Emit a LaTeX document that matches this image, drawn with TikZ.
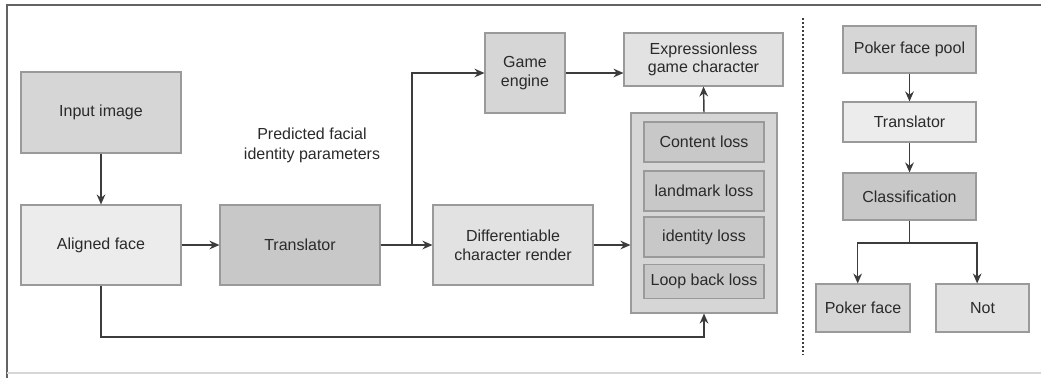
\documentclass[tikz,border=0pt]{standalone}
\usepackage{fontspec}
\setmainfont{Liberation Sans}
\usepackage{tikz}
\usetikzlibrary{arrows.meta, positioning, calc}

\definecolor{inkgray}{HTML}{2A2A2A}
\definecolor{linegray}{HTML}{3C3C3C}
\definecolor{edgegray}{HTML}{9A9A9A}
\definecolor{fillpale}{HTML}{ECECEC}
\definecolor{filllight}{HTML}{E2E2E2}
\definecolor{fillmid}{HTML}{D6D6D6}
\definecolor{filldark}{HTML}{C8C8C8}

\begin{document}
\begin{tikzpicture}[
    x=0.75pt, y=-0.75pt,
    >={Stealth[length=7.5pt,width=6.5pt]},
    blk/.style={draw=edgegray, line width=0.8pt, align=center, inner sep=1pt,
                text=inkgray, font=\fontsize{12}{14}\selectfont},
    link/.style={draw=linegray, line width=1.1pt},
]
  \useasboundingbox (0,0) rectangle (1041,379);
  % frame
  \draw[linegray!80, line width=1.4pt] (7,378) -- (7,5) -- (1041,5);
  \draw[edgegray!40, line width=0.8pt] (7,373) -- (1041,373);

  % left part: training pipeline
  \node[blk, fill=fillmid, minimum width=120pt, minimum height=60.75pt] (in) at (101,112.5) {Input image};
  \node[blk, fill=fillpale, minimum width=120pt, minimum height=60pt] (align) at (101,245) {Aligned face};
  \node[blk, fill=filldark, minimum width=120pt, minimum height=60pt] (trans) at (300,245) {Translator};
  \node[text=inkgray, align=center, font=\fontsize{12}{15}\selectfont] (params) at (312,145)
      {Predicted facial\\identity parameters};
  \node[blk, fill=fillmid, minimum width=60pt, minimum height=60pt] (game) at (525,73) {Game\\engine};
  \node[blk, fill=filllight, minimum width=119.25pt, minimum height=39.75pt] (expr) at (703.5,59.5)
      {Expressionless\\game character};
  \node[blk, fill=filllight, minimum width=120pt, minimum height=60pt] (diff) at (513,245)
      {Differentiable\\character render};
  \node[blk, fill=fillmid, minimum width=109.5pt, minimum height=150pt] (losses) at (704,213) {};
  \node[blk, fill=filldark, minimum width=90pt, minimum height=30pt] (content) at (704,142) {Content loss};
  \node[blk, fill=filldark, minimum width=90pt, minimum height=30pt] (landmark) at (704,191) {landmark loss};
  \node[blk, fill=filldark, minimum width=90pt, minimum height=30pt] (ident) at (704,237) {identity loss};
  \node[blk, fill=filldark, minimum width=90pt, minimum height=25.5pt] (loopback) at (704,281.5) {Loop back loss};

  \coordinate (split) at (412,245);
  \coordinate (lowrun) at (0,337);

  \draw[link, ->] (in) -- (align);
  \draw[link, ->] (align) -- (trans);
  \draw[link] (trans) -- (split);
  \draw[link, ->] (split) -- (diff);
  \draw[link, ->] (split) |- (game.west);
  \draw[link, ->] (game.east) -- (game.east -| expr.west);
  \draw[link, ->] (diff.east) -- (diff.east -| losses.west);
  \draw[link, ->] (losses.north) -- (expr.south);
  \draw[link, ->] (align.south) -- (align.south |- lowrun) -| (losses.south);

  % separator
  \coordinate (septop) at (803,18);
  \coordinate (sepbot) at (803,355);
  \draw[linegray, line width=1.1pt, dash pattern=on 1.6pt off 1.4pt] (septop) -- (sepbot);

  % right part: poker face check
  \node[blk, fill=fillmid, minimum width=99.75pt, minimum height=35.25pt] (pool) at (909.5,49.5) {Poker face pool};
  \node[blk, fill=fillpale, minimum width=99.75pt, minimum height=30pt] (trans2) at (909.5,122) {Translator};
  \node[blk, fill=filldark, minimum width=99.75pt, minimum height=35.25pt] (cls) at (909.5,196.5) {Classification};
  \node[blk, fill=fillmid, minimum width=70.5pt, minimum height=36pt] (poker) at (863,308) {Poker face};
  \node[blk, fill=filllight, minimum width=69.75pt, minimum height=36pt] (nope) at (982.5,308) {Not};

  \coordinate (fork) at (909.5,243);
  \draw[link, ->] (pool) -- (trans2);
  \draw[link, ->] (trans2) -- (cls);
  \draw[link] (cls) -- (fork);
  \draw[link, ->] (fork) -| ([xshift=-4pt]poker.north);
  \draw[link, ->] (fork) -| ([xshift=-4pt]nope.north);
\end{tikzpicture}
\end{document}
